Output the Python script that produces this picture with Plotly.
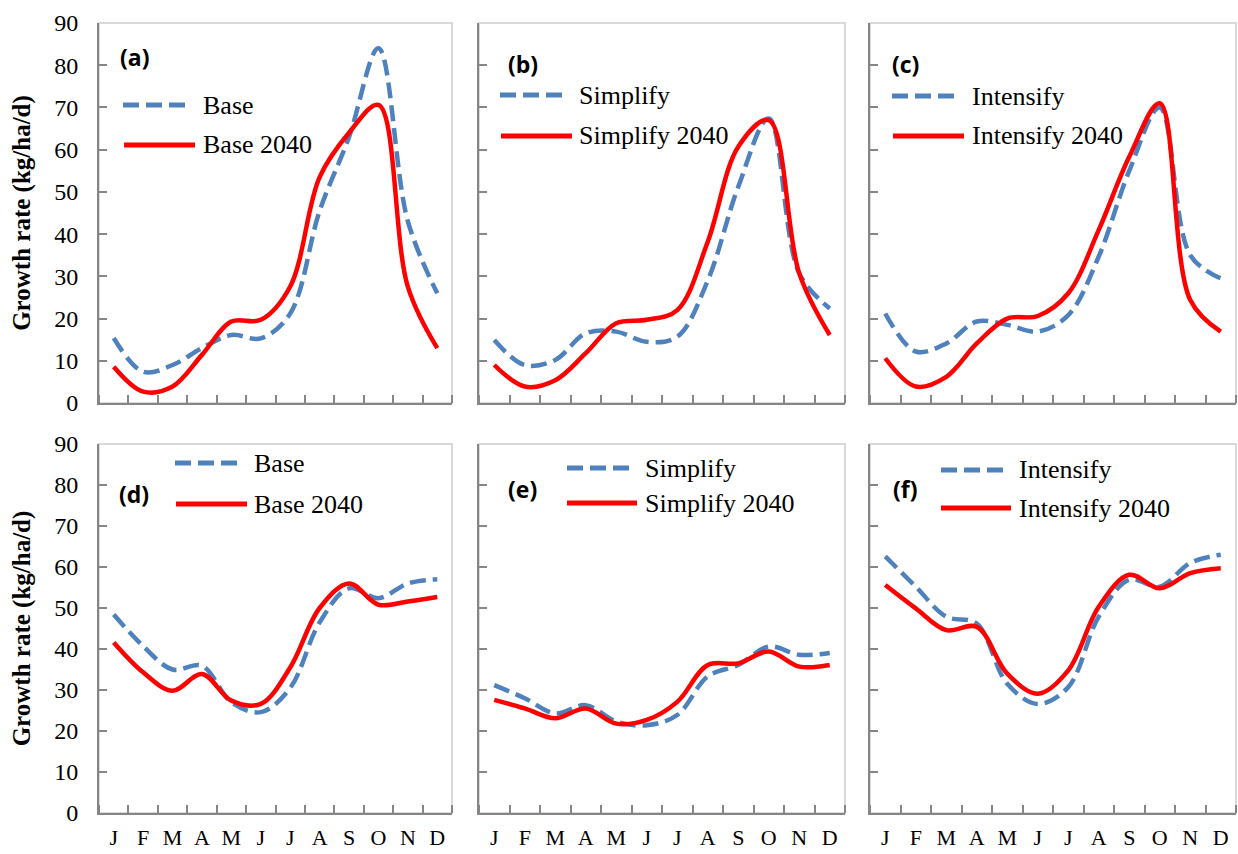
import plotly.graph_objects as go

# ---------------- data ----------------
months = ["J", "F", "M", "A", "M", "J", "J", "A", "S", "O", "N", "D"]
month_idx = list(range(12))
y_ticks = [0, 10, 20, 30, 40, 50, 60, 70, 80, 90]

panel_labels = ["(a)", "(b)", "(c)", "(d)", "(e)", "(f)"]
scenario_names = ["Base", "Simplify", "Intensify", "Base", "Simplify", "Intensify"]

a_base = [15.4, 7.4, 9.0, 13.0, 16.1, 15.3, 21.2, 45.5, 63.0, 84.0, 43.0, 26.0]
a_2040 = [8.6, 2.7, 3.9, 11.4, 19.3, 19.7, 27.6, 53.5, 64.0, 70.6, 27.5, 13.0]
b_base = [14.9, 9.0, 10.2, 16.5, 16.9, 14.5, 15.7, 29.0, 51.2, 67.4, 30.7, 22.4]
b_2040 = [9.0, 3.9, 5.4, 11.8, 18.9, 19.7, 22.0, 38.2, 60.7, 67.0, 30.7, 16.1]
c_base = [21.2, 12.2, 14.1, 19.3, 18.5, 16.9, 20.8, 34.7, 55.0, 70.0, 35.0, 29.5]
c_2040 = [10.6, 3.9, 6.2, 14.1, 20.0, 20.6, 26.0, 41.0, 58.3, 71.0, 24.4, 16.9]
d_base = [48.4, 40.7, 35.0, 35.9, 27.0, 24.6, 30.5, 46.5, 54.8, 52.4, 56.0, 57.0]
d_2040 = [41.6, 34.3, 29.8, 33.9, 27.4, 26.6, 35.5, 50.0, 56.0, 50.8, 51.6, 52.7]
e_base = [31.2, 28.0, 24.3, 26.3, 22.3, 21.4, 23.9, 33.3, 36.1, 40.6, 38.6, 39.0]
e_2040 = [27.6, 25.5, 23.1, 25.5, 21.8, 22.7, 27.1, 36.1, 36.5, 39.4, 35.7, 36.1]
f_base = [62.6, 55.2, 47.9, 46.2, 31.5, 26.6, 30.7, 47.9, 56.9, 55.2, 61.0, 63.0]
f_2040 = [55.6, 49.9, 44.6, 45.4, 34.0, 29.1, 34.8, 50.3, 58.1, 54.8, 58.5, 59.7]

current_series = [a_base, b_base, c_base, d_base, e_base, f_base]
future_series = [a_2040, b_2040, c_2040, d_2040, e_2040, f_2040]

# ---------------- styling / layout ----------------
W, H = 1238, 854
BLUE = "#4F81BD"
RED = "#FF0000"
AXIS_GRAY = "#868686"
BOX_GRAY = "#D9D9D9"
SERIF = "Liberation Serif"
SANS = "Open Sans"

def px_x(v):
    return v / W

def px_y(v):
    return 1 - v / H

col_px = [(99, 452), (479, 845), (870, 1236)]
row_px = [(23, 403), (444, 813)]

legend_px = [
    dict(b=(123, 190, 105), r=(124, 195, 145), tx=201),
    dict(b=(500, 567, 95), r=(501, 572, 136), tx=577),
    dict(b=(892, 958, 96), r=(893, 964, 136), tx=970),
    dict(b=(175, 240, 463), r=(176, 247, 504), tx=252),
    dict(b=(567, 630, 468), r=(567, 637, 503), tx=643),
    dict(b=(941, 1005, 470), r=(941, 1011, 508), tx=1017),
]
label_px = [(134, 57), (523, 64), (906, 64), (134, 494), (522, 489), (905, 489)]

fig = go.Figure()
shapes = []
annotations = []
layout = dict(
    width=W, height=H,
    margin=dict(l=0, r=0, t=0, b=0, autoexpand=False),
    paper_bgcolor="white", plot_bgcolor="white",
    showlegend=False,
    font=dict(family=SERIF, color="black"),
)

DASH = "16px,7px"

for i in range(6):
    r, c = divmod(i, 3)
    n = i + 1
    xa = "x" if n == 1 else f"x{n}"
    ya = "y" if n == 1 else f"y{n}"
    xkey = "xaxis" if n == 1 else f"xaxis{n}"
    ykey = "yaxis" if n == 1 else f"yaxis{n}"
    x0, x1 = col_px[c]
    y0, y1 = row_px[r]

    fig.add_trace(go.Scatter(
        x=month_idx, y=current_series[i], mode="lines",
        line=dict(color=BLUE, width=4.5, dash=DASH, shape="spline", smoothing=1),
        name=scenario_names[i], xaxis=xa, yaxis=ya,
    ))
    fig.add_trace(go.Scatter(
        x=month_idx, y=future_series[i], mode="lines",
        line=dict(color=RED, width=4.5, shape="spline", smoothing=1),
        name=scenario_names[i] + " 2040", xaxis=xa, yaxis=ya,
    ))

    layout[xkey] = dict(
        domain=[px_x(x0), px_x(x1)], anchor=ya, automargin=False,
        range=[-0.5, 11.5], tickmode="array", tickvals=month_idx, ticktext=months,
        ticks="", showticklabels=(r == 1),
        tickfont=dict(family=SERIF, size=22, color="black"),
        ticklabelstandoff=4,
        showline=True, linecolor=AXIS_GRAY, linewidth=2,
        showgrid=False, zeroline=False,
        minor=dict(tick0=-0.5, dtick=1, ticks="inside", ticklen=8,
                   tickcolor=AXIS_GRAY, tickwidth=1.5, showgrid=False),
        fixedrange=True,
    )
    ydict = dict(
        domain=[px_y(y1), px_y(y0)], anchor=xa, automargin=False,
        range=[0, 90], tickmode="array", tickvals=y_ticks,
        ticks="inside", ticklen=8, tickcolor=AXIS_GRAY, tickwidth=1.5,
        showticklabels=(c == 0),
        tickfont=dict(family=SERIF, size=24, color="black"),
        ticklabelstandoff=14,
        showline=True, linecolor=AXIS_GRAY, linewidth=2,
        showgrid=False, zeroline=False, fixedrange=True,
    )
    if c == 0:
        ydict["title"] = dict(text="<b>Growth rate (kg/ha/d)</b>",
                              font=dict(family=SERIF, size=25, color="black"),
                              standoff=16)
    layout[ykey] = ydict

    shapes.append(dict(type="rect", xref=f"{xa} domain", yref=f"{ya} domain",
                       x0=0, x1=1, y0=0, y1=1, layer="below",
                       line=dict(color=BOX_GRAY, width=2)))

    lp = legend_px[i]
    bx0, bx1, by = lp["b"]
    rx0, rx1, ry = lp["r"]
    shapes.append(dict(type="line", xref="paper", yref="paper",
                       x0=px_x(bx0), x1=px_x(bx1), y0=px_y(by), y1=px_y(by),
                       line=dict(color=BLUE, width=5, dash=DASH)))
    shapes.append(dict(type="line", xref="paper", yref="paper",
                       x0=px_x(rx0), x1=px_x(rx1), y0=px_y(ry), y1=px_y(ry),
                       line=dict(color=RED, width=5)))
    annotations.append(dict(text=scenario_names[i], xref="paper", yref="paper",
                            x=px_x(lp["tx"]), y=px_y(by), xanchor="left", yanchor="middle",
                            showarrow=False, font=dict(family=SERIF, size=26, color="black")))
    annotations.append(dict(text=scenario_names[i] + " 2040", xref="paper", yref="paper",
                            x=px_x(lp["tx"]), y=px_y(ry), xanchor="left", yanchor="middle",
                            showarrow=False, font=dict(family=SERIF, size=26, color="black")))
    lx, ly = label_px[i]
    annotations.append(dict(text=f"<b>{panel_labels[i]}</b>", xref="paper", yref="paper",
                            x=px_x(lx), y=px_y(ly), xanchor="center", yanchor="middle",
                            showarrow=False, font=dict(family=SANS, size=23, color="black")))

layout["shapes"] = shapes
layout["annotations"] = annotations
fig.update_layout(**layout)

fig.write_html("out.html",
               config={"displayModeBar": False},
               post_script="document.body.style.margin='0px';document.body.style.overflow='hidden';")
